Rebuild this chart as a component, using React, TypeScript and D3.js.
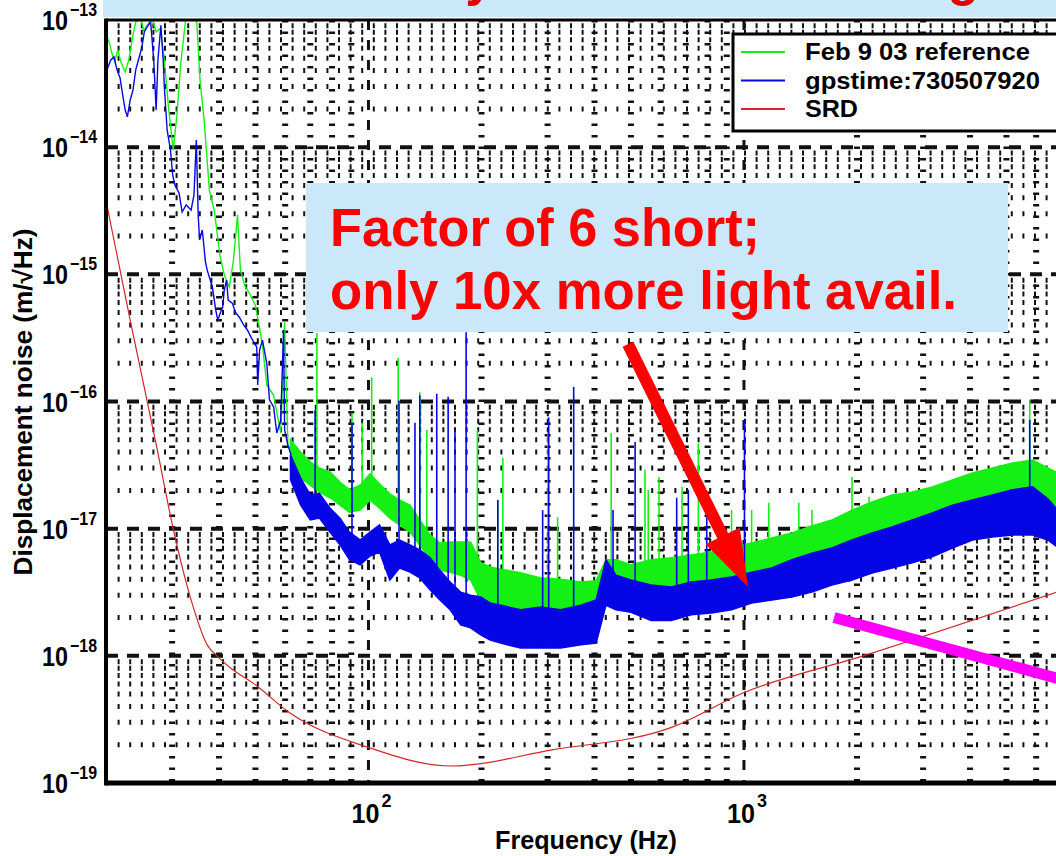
import React from 'react';
import * as d3 from 'd3';

const WIDTH = 1056;
const HEIGHT = 856;
const FONT = "'Liberation Sans', Arial, Helvetica, sans-serif";

// ---- values ----

// SRD design curve
const srdFreq = [20, 23.3, 27.4, 30.2, 33.9, 37.2, 39.5, 43.6, 49.3, 61.8, 99.1, 166, 308, 647, 994, 2075, 6800];
const srdValue = [3.8e-15, 4.1e-16, 4.15e-17, 1.0e-17, 2.6e-18, 1.22e-18, 1.0e-18, 7.75e-19, 6.1e-19, 3.55e-19, 1.92e-19, 1.36e-19, 1.82e-19, 2.76e-19, 5.1e-19, 1.0e-18, 3.17e-18];

// Feb 9 03 reference, low frequency part (single trace)
const refLowFreq = [20.0, 20.4, 20.8, 21.1, 21.5, 21.9, 22.5, 23.0, 23.6, 24.0, 24.7, 25.2, 25.9, 26.5, 27.2, 27.9, 28.6, 29.3, 30.2, 30.9, 31.6, 32.7, 33.7, 34.8, 35.6, 36.5, 37.7, 38.9, 40.2, 41.3, 42.6, 43.7, 44.8, 45.6, 46.8, 48.2, 50.0, 52.2, 53.6, 55.9, 58.4, 59.8, 61.0, 62.5];
const refLowValue = [7.6e-14, 6.7e-14, 5.3e-14, 4.7e-14, 5.8e-14, 4.7e-14, 3.9e-14, 4.85e-14, 7.6e-14, 9.6e-14, 1.05e-13, 8.3e-14, 9.3e-14, 1.05e-13, 8.05e-14, 8.6e-14, 4.85e-14, 2.15e-14, 9.5e-15, 1.79e-14, 4.43e-14, 1.1e-13, 1.24e-13, 1.1e-13, 3.38e-14, 1.64e-14, 4.6e-15, 3.1e-15, 1.42e-15, 9.9e-16, 7.95e-16, 1.29e-15, 2.93e-15, 1.08e-15, 8.2e-16, 7.1e-16, 5.7e-16, 2.8e-16, 1.35e-16, 1.12e-16, 5.65e-17, 4.2e-16, 4.55e-17, 4.16e-17];

// gpstime:730507920, low frequency part (single trace)
const gpsLowFreq = [20.0, 20.1, 20.6, 21.0, 21.4, 21.8, 22.2, 22.5, 22.8, 23.2, 23.6, 24.0, 24.4, 24.9, 25.3, 25.9, 26.3, 26.8, 27.2, 27.5, 28.0, 28.4, 28.6, 29.1, 29.7, 30.1, 30.5, 31.3, 31.9, 32.7, 33.7, 34.3, 34.8, 35.2, 35.5, 36.1, 36.8, 37.2, 37.9, 38.4, 39.2, 39.7, 40.4, 40.9, 41.3, 41.9, 42.3, 43.4, 44.2, 45.3, 46.5, 47.6, 48.8, 50.4, 50.7, 51.3, 52.2, 53.6, 54.5, 55.9, 57.0, 58.4, 59.4, 59.8, 61.0, 62.2];
const gpsLowValue = [5.8e-14, 4.05e-14, 4.85e-14, 5.12e-14, 4.05e-14, 3.5e-14, 2.48e-14, 1.96e-14, 1.73e-14, 2.35e-14, 2.82e-14, 4.05e-14, 4.85e-14, 6.03e-14, 8.05e-14, 9.1e-14, 9.6e-14, 4.85e-14, 1.96e-14, 4.85e-14, 9.1e-14, 4.85e-14, 2.97e-14, 1.36e-14, 9.5e-15, 6.04e-15, 5.05e-15, 4.36e-15, 3.09e-15, 3.51e-15, 3.2e-15, 4.2e-15, 1.14e-14, 2.93e-15, 1.86e-15, 2.23e-15, 1.25e-15, 1.08e-15, 9.0e-16, 7.95e-16, 5.24e-16, 4.36e-16, 5.05e-16, 5.53e-16, 7.5e-16, 9.0e-16, 6.28e-16, 5.94e-16, 5.05e-16, 4.6e-16, 4.0e-16, 3.65e-16, 3.15e-16, 2.68e-16, 1.35e-16, 2.54e-16, 3.04e-16, 2.0e-16, 1.03e-16, 9.05e-17, 5.65e-17, 7.14e-17, 3.65e-16, 5.97e-17, 4.55e-17, 3.8e-17];

// above ~60 Hz both spectra are dense: upper and lower edge of the noise floor
const bandFreq = [62, 66, 70, 74, 79, 84, 89, 95, 101, 107, 114, 121, 129, 137, 146, 155, 165, 176, 187, 199, 211, 225, 254, 288, 325, 368, 404, 429, 456, 500, 566, 640, 724, 819, 927, 1048, 1186, 1341, 1517, 1715, 1940, 2193, 2481, 2806, 3173, 3589, 4059, 4590, 5192, 5872, 6443, 7000];
const refBandTop = [5.0e-17, 4.0e-17, 3.35e-17, 3.0e-17, 2.8e-17, 2.33e-17, 2.02e-17, 2.2e-17, 2.7e-17, 2.25e-17, 1.88e-17, 1.68e-17, 1.53e-17, 1.17e-17, 8.9e-18, 7.7e-18, 7.85e-18, 7.85e-18, 7.85e-18, 5.4e-18, 5.0e-18, 4.8e-18, 4.5e-18, 4.1e-18, 4.0e-18, 3.8e-18, 3.9e-18, 5.7e-18, 5.7e-18, 5.2e-18, 5.7e-18, 5.9e-18, 6.2e-18, 6.55e-18, 7.05e-18, 7.7e-18, 8.45e-18, 9.25e-18, 1.05e-17, 1.17e-17, 1.4e-17, 1.62e-17, 1.84e-17, 1.94e-17, 2.13e-17, 2.42e-17, 2.74e-17, 3.0e-17, 3.28e-17, 3.47e-17, 3.0e-17, 2.65e-17];
const refBandBottom = [2.9e-17, 2.5e-17, 2.2e-17, 1.94e-17, 1.75e-17, 1.53e-17, 1.35e-17, 1.4e-17, 1.68e-17, 1.45e-17, 1.21e-17, 1.07e-17, 9.4e-18, 7.45e-18, 5.7e-18, 4.7e-18, 4.55e-18, 4.3e-18, 3.95e-18, 2.75e-18, 2.3e-18, 2.1e-18, 1.9e-18, 1.75e-18, 1.75e-18, 1.75e-18, 1.9e-18, 2.75e-18, 2.75e-18, 2.75e-18, 2.75e-18, 2.8e-18, 3.0e-18, 3.3e-18, 3.6e-18, 3.95e-18, 4.3e-18, 4.7e-18, 5.2e-18, 5.7e-18, 6.8e-18, 7.45e-18, 8.1e-18, 8.9e-18, 9.8e-18, 1.17e-17, 1.3e-17, 1.4e-17, 1.53e-17, 1.68e-17, 1.4e-17, 1.17e-17];
const gpsBandTop = [3.8e-17, 2.5e-17, 1.84e-17, 1.9e-17, 1.45e-17, 1.21e-17, 9.4e-18, 8.15e-18, 9.4e-18, 1.07e-17, 7.45e-18, 8.15e-18, 7.45e-18, 6.8e-18, 5.9e-18, 4.7e-18, 3.8e-18, 3.17e-18, 3.0e-18, 2.9e-18, 2.6e-18, 2.5e-18, 2.3e-18, 2.42e-18, 2.3e-18, 2.5e-18, 2.75e-18, 5.7e-18, 4.3e-18, 3.95e-18, 3.6e-18, 3.48e-18, 3.8e-18, 3.95e-18, 4.17e-18, 4.55e-18, 4.9e-18, 5.7e-18, 6.4e-18, 7.05e-18, 8.15e-18, 9.25e-18, 1.03e-17, 1.17e-17, 1.33e-17, 1.53e-17, 1.68e-17, 1.84e-17, 2.02e-17, 2.13e-17, 1.72e-17, 1.3e-17];
const gpsBandBottom = [2.42e-17, 1.53e-17, 1.17e-17, 1.21e-17, 9.4e-18, 7.45e-18, 5.7e-18, 5.2e-18, 6.1e-18, 6.55e-18, 3.95e-18, 4.9e-18, 4.55e-18, 4.1e-18, 3.3e-18, 2.75e-18, 2.3e-18, 1.75e-18, 1.66e-18, 1.46e-18, 1.33e-18, 1.26e-18, 1.15e-18, 1.16e-18, 1.15e-18, 1.22e-18, 1.26e-18, 2.5e-18, 2.3e-18, 2.2e-18, 1.9e-18, 1.9e-18, 2.1e-18, 2.17e-18, 2.3e-18, 2.6e-18, 2.75e-18, 2.9e-18, 3.17e-18, 3.6e-18, 3.95e-18, 4.48e-18, 4.9e-18, 5.38e-18, 6.0e-18, 7.05e-18, 8.15e-18, 8.6e-18, 8.9e-18, 8.9e-18, 8.15e-18, 6.8e-18];

// line features (peak heights)
const refSpikeFreq = [72.9, 90.4, 96.2, 102, 120, 137, 143, 195, 221, 228, 301, 319, 443, 545, 556, 594, 684, 756, 927, 1048, 1164, 1400, 1517, 1940, 2154, 5768, 6856];
const refSpikeValue = [3.45e-16, 8.1e-17, 6.8e-17, 1.55e-16, 2.2e-16, 1.18e-16, 5.97e-17, 5.97e-17, 1.68e-17, 3.6e-17, 5.75e-17, 1.23e-17, 5.65e-17, 2.9e-17, 2.02e-17, 2.55e-17, 2.13e-17, 4.7e-17, 1.4e-17, 1.4e-17, 1.6e-17, 1.6e-17, 1.4e-17, 2.55e-17, 1.78e-17, 1.03e-16, 5.65e-17];
const gpsSpikeFreq = [72.1, 90.4, 120.6, 133, 137, 152, 163, 170, 182, 221, 291, 302, 352, 448, 513, 662, 711, 796, 1003, 5768];
const gpsSpikeValue = [8.57e-17, 6.8e-17, 1.02e-16, 6.8e-17, 1.12e-16, 1.15e-16, 1.09e-16, 5.97e-17, 3.5e-16, 1.68e-17, 1.4e-17, 7.5e-17, 1.3e-16, 1.4e-17, 4.8e-17, 1.75e-17, 2.02e-17, 1.23e-17, 7.15e-17, 7.15e-17];

const legendLabels = ['Feb 9 03 reference', 'gpstime:730507920', 'SRD'];
const yTickExponents = [-19, -18, -17, -16, -15, -14, -13];
const xTickExponents = [2, 3];
const noteLines = ['Factor of 6 short;', 'only 10x more light avail.'];
const titleText = 'Sensitivity: shot noise limiting';

// annotation anchors, in data units
const arrowFrom: [number, number] = [491, 2.83e-16];
const arrowTo: [number, number] = [1025, 3.48e-18];
const barFrom: [number, number] = [1737, 2.0e-18];
const barTo: [number, number] = [6776, 6.7e-19];

const GREEN = '#14f014';
const BLUE = '#0505e6';
const RED = '#d02828';
const BOX = '#cbe8fa';

const zip = (a: number[], b: number[]) => a.map((v, i) => [v, b[i]] as [number, number]);

export default function App() {
  const left = 106, top = 20, bottom = 783;
  const x = d3.scaleLog().domain([20, 7000]).range([left, left + 375.5 * Math.log10(350)]);
  const y = d3.scaleLog().domain([1e-19, 1e-13]).range([bottom, top]);
  const right = x.range()[1];

  const isDecade = (t: number) => Math.abs(Math.log10(t) - Math.round(Math.log10(t))) < 1e-6;
  const xt = x.ticks();
  const yt = y.ticks();
  const xMinor = xt.filter(t => !isDecade(t) && t > 20);
  const xMajor = xt.filter(t => isDecade(t));
  const yMinor = yt.filter(t => !isDecade(t));
  const yMajor = yt.filter(t => isDecade(t) && t > 1.5e-19 && t < 0.9e-13);

  const line = d3.line<[number, number]>().x(d => x(d[0])).y(d => y(d[1]));
  const srdLine = d3.line<[number, number]>().x(d => x(d[0])).y(d => y(d[1])).curve(d3.curveMonotoneX);
  const band = (hi: number[], lo: number[]) =>
    d3.area<number>().x((_, i) => x(bandFreq[i])).y0((_, i) => y(lo[i])).y1((_, i) => y(hi[i]))(bandFreq) || '';

  const refTopY = d3.scaleLog().domain(bandFreq).range(refBandTop.map(v => y(v)));
  const gpsTopY = d3.scaleLog().domain(bandFreq).range(gpsBandTop.map(v => y(v)));

  // arrow polygon
  const ax0 = x(arrowFrom[0]), ay0 = y(arrowFrom[1]);
  const ax1 = x(arrowTo[0]), ay1 = y(arrowTo[1]);
  const alen = Math.hypot(ax1 - ax0, ay1 - ay0);
  const ux = (ax1 - ax0) / alen, uy = (ay1 - ay0) / alen;
  const px = -uy, py = ux;
  const headLen = 57, headHalf = 19, shaftHalf = 6;
  const bx = ax1 - ux * headLen, by = ay1 - uy * headLen;
  const arrowPts = [
    [ax0 + px * shaftHalf, ay0 + py * shaftHalf],
    [bx + px * shaftHalf, by + py * shaftHalf],
    [bx + px * headHalf, by + py * headHalf],
    [ax1, ay1],
    [bx - px * headHalf, by - py * headHalf],
    [bx - px * shaftHalf, by - py * shaftHalf],
    [ax0 - px * shaftHalf, ay0 - py * shaftHalf],
  ].map(p => p.join(',')).join(' ');

  const mx0 = x(barFrom[0]), my0 = y(barFrom[1]);
  const mx1 = x(barTo[0]), my1 = y(barTo[1]);
  const mlen = Math.hypot(mx1 - mx0, my1 - my0);
  const mx2 = mx1 + ((mx1 - mx0) / mlen) * 30, my2 = my1 + ((my1 - my0) / mlen) * 30;

  const legendColors = [GREEN, BLUE, RED];
  const legendWidths = [225, 235, 53];

  return (
    <svg width={WIDTH} height={HEIGHT} style={{ position: 'fixed', left: 0, top: 0 }} fontFamily={FONT}>
      <defs>
        <clipPath id="plotArea">
          <rect x={left} y={top} width={right - left + 20} height={bottom - top} />
        </clipPath>
        <clipPath id="bannerArea">
          <rect x={103} y={0} width={1000} height={17} />
        </clipPath>
      </defs>
      <rect width={WIDTH} height={HEIGHT} fill="#fff" />

      {/* grid */}
      <g clipPath="url(#plotArea)" stroke="#111" fill="none">
        {yMinor.map(t => (
          <line key={'ym' + t} x1={left} x2={right} y1={y(t)} y2={y(t)} strokeWidth={5} strokeDasharray="2 9.6" />
        ))}
        {xMinor.map(t => (
          <line key={'xm' + t} x1={x(t)} x2={x(t)} y1={top} y2={bottom} strokeWidth={6} strokeDasharray="2.5 9" />
        ))}
        {yMajor.map(t => (
          <line key={'yM' + t} x1={left} x2={right} y1={y(t)} y2={y(t)} strokeWidth={4} strokeDasharray="12 9" />
        ))}
        {xMajor.map(t => (
          <line key={'xM' + t} x1={x(t)} x2={x(t)} y1={top} y2={bottom} strokeWidth={3} strokeDasharray="10 10" />
        ))}
      </g>

      {/* spectra */}
      <g clipPath="url(#plotArea)">
        <path d={line(zip(refLowFreq, refLowValue)) || ''} fill="none" stroke={GREEN} strokeWidth={1.4} />
        <path d={band(refBandTop, refBandBottom)} fill={GREEN} stroke={GREEN} strokeWidth={1.5} />
        {refSpikeFreq.map((f, i) => (
          <line key={'rs' + i} x1={x(f)} x2={x(f)} y1={y(refSpikeValue[i])} y2={refTopY(f) + 8} stroke={GREEN} strokeWidth={1.6} />
        ))}
        <path d={line(zip(gpsLowFreq, gpsLowValue)) || ''} fill="none" stroke={BLUE} strokeWidth={1.4} />
        <path d={band(gpsBandTop, gpsBandBottom)} fill={BLUE} stroke={BLUE} strokeWidth={1.5} />
        {gpsSpikeFreq.map((f, i) => (
          <line key={'gs' + i} x1={x(f)} x2={x(f)} y1={y(gpsSpikeValue[i])} y2={gpsTopY(f) + 8} stroke={BLUE} strokeWidth={1.6} />
        ))}
        <path d={srdLine(zip(srdFreq, srdValue)) || ''} fill="none" stroke={RED} strokeWidth={1.2} />
      </g>

      {/* axes frame */}
      <g stroke="#000" fill="none">
        <line x1={left} x2={right + 20} y1={top} y2={top} strokeWidth={3} />
        <line x1={left} x2={right + 20} y1={bottom} y2={bottom} strokeWidth={5} />
        <line x1={left} x2={left} y1={top - 1.5} y2={bottom + 2.5} strokeWidth={4} />
      </g>

      {/* legend */}
      <g>
        <rect x={733} y={34} width={360} height={97} fill="#fff" stroke="#000" strokeWidth={3} />
        {legendLabels.map((lab, i) => {
          const ly = 52 + i * 28.5;
          return (
            <g key={lab}>
              <line x1={741} x2={785} y1={ly} y2={ly} stroke={legendColors[i]} strokeWidth={1.8} />
              <text x={805} y={ly + 8} fontSize={23} fontWeight="bold" fill="#000" textLength={legendWidths[i]} lengthAdjust="spacingAndGlyphs">
                {lab}
              </text>
            </g>
          );
        })}
      </g>

      {/* tick labels */}
      <g fill="#000" fontWeight="bold">
        {yTickExponents.map(e => {
          const yy = y(Math.pow(10, e));
          return (
            <g key={'yl' + e}>
              <text x={68} y={yy + 10} textAnchor="end" fontSize={27} textLength={26} lengthAdjust="spacingAndGlyphs">10</text>
              <text x={70} y={yy - 4} fontSize={18} textLength={27} lengthAdjust="spacingAndGlyphs">{'\u2212' + Math.abs(e)}</text>
            </g>
          );
        })}
        {xTickExponents.map(e => {
          const xx = x(Math.pow(10, e));
          return (
            <g key={'xl' + e}>
              <text x={xx + 11} y={823} textAnchor="end" fontSize={27} textLength={28} lengthAdjust="spacingAndGlyphs">10</text>
              <text x={xx + 13} y={807} fontSize={18}>{e}</text>
            </g>
          );
        })}
        <text x={586} y={849} textAnchor="middle" fontSize={25} textLength={182} lengthAdjust="spacingAndGlyphs">Frequency (Hz)</text>
        <text transform="translate(32,402) rotate(-90)" textAnchor="middle" fontSize={26} textLength={347} lengthAdjust="spacingAndGlyphs">
          Displacement noise (m/{'\u221A'}Hz)
        </text>
      </g>

      {/* slide title banner (cut off at the top in the source) */}
      <rect x={103} y={-10} width={1000} height={27} fill={BOX} />
      <text x={237} y={-5} clipPath="url(#bannerArea)" fill="#e00000" fontSize={53} fontWeight="bold" textLength={742} lengthAdjust="spacingAndGlyphs">
        {titleText}
      </text>

      {/* annotation */}
      <rect x={306} y={183} width={702} height={149} fill={BOX} />
      <text x={330} y={246} fill="#ff0000" fontSize={53} fontWeight="bold" textLength={430} lengthAdjust="spacingAndGlyphs">{noteLines[0]}</text>
      <text x={330} y={309} fill="#ff0000" fontSize={53} fontWeight="bold" textLength={627} lengthAdjust="spacingAndGlyphs">{noteLines[1]}</text>
      <polygon points={arrowPts} fill="#ff0000" />
      <line x1={mx0} y1={my0} x2={mx2} y2={my2} stroke="#ff00ff" strokeWidth={11} />
    </svg>
  );
}
